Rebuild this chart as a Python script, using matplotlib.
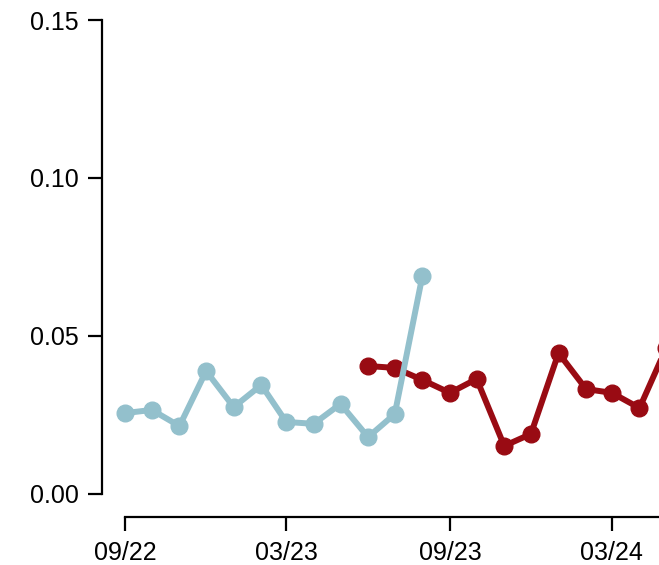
import pandas as pd
import matplotlib
matplotlib.use("Agg")
import matplotlib.pyplot as plt
import matplotlib.dates as mdates

plt.rcParams['font.family'] = ['Liberation Sans', 'DejaVu Sans']

# monthly rates, two overlapping periods
months_a = ["2022-09", "2022-10", "2022-11", "2022-12", "2023-01", "2023-02",
            "2023-03", "2023-04", "2023-05", "2023-06", "2023-07", "2023-08"]
rate_a = [0.0256, 0.0266, 0.0215, 0.0389, 0.0275, 0.0345,
          0.0228, 0.0222, 0.0285, 0.0180, 0.0253, 0.0690]

months_b = ["2023-06", "2023-07", "2023-08", "2023-09", "2023-10", "2023-11",
            "2023-12", "2024-01", "2024-02", "2024-03", "2024-04", "2024-05"]
rate_b = [0.0405, 0.0399, 0.0361, 0.0320, 0.0364, 0.0152,
          0.0190, 0.0446, 0.0332, 0.0320, 0.0272, 0.0462]

tick_months = ["2022-09", "2023-03", "2023-09", "2024-03"]
y_ticks = [0.00, 0.05, 0.10, 0.15]

xa = pd.to_datetime(months_a)
xb = pd.to_datetime(months_b)
xt = pd.to_datetime(tick_months)

fig = plt.figure(figsize=(6.59, 5.65), dpi=100)
ax = fig.add_axes([0.1548, 0.1257, 0.979, 0.8389])

ax.plot(xb, rate_b, color="#990b13", lw=4.3, marker="o", ms=12, zorder=2)
ax.plot(xa, rate_a, color="#93c0cc", lw=4.3, marker="o", ms=12, zorder=3)

ax.set_ylim(0, 0.15)
ax.set_xlim(pd.Timestamp("2022-08-06"), pd.Timestamp("2024-07-31"))
ax.set_yticks(y_ticks)
ax.set_yticklabels([f"{v:.2f}" for v in y_ticks])
ax.set_xticks(xt)
ax.xaxis.set_major_formatter(mdates.DateFormatter("%m/%y"))

ax.spines[['top', 'right']].set_visible(False)
ax.spines['bottom'].set_position(('outward', 16.5))
ax.spines['bottom'].set_bounds(mdates.date2num(xt[0]), mdates.date2num(pd.Timestamp("2024-07-31")))
for s in ('left', 'bottom'):
    ax.spines[s].set_linewidth(1.6)
ax.tick_params(axis='both', length=10, width=1.6, pad=7, labelsize=18)

fig.savefig("out.png", dpi=100)
